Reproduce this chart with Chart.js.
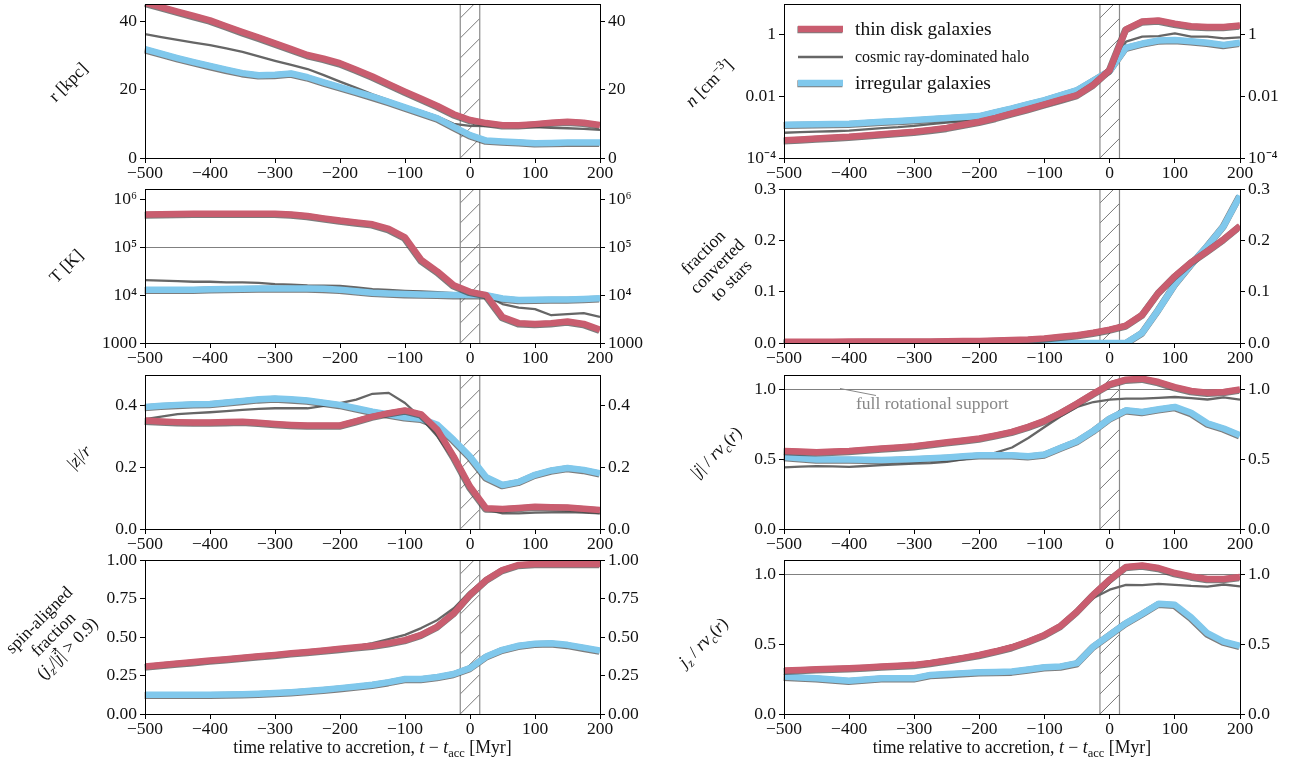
<!DOCTYPE html>
<html>
<head>
<meta charset="utf-8">
<script src="https://cdn.jsdelivr.net/npm/chart.js@4.4.0/dist/chart.umd.min.js"></script>
<style>
  body { margin: 0; background: #fff; width: 1296px; height: 762px; overflow: hidden; position: relative; }
  .panel { position: absolute; }
</style>
</head>
<body>
<script>
// time axis, Myr relative to accretion
const time = [-500, -475, -450, -425, -400, -375, -350, -325, -300, -275, -250, -225, -200, -175, -150,
  -125, -100, -75, -50, -25, 0, 25, 50, 75, 100, 125, 150, 175, 200];
const xTicks = [-500, -400, -300, -200, -100, 0, 100, 200];
const xTickLabels = ["−500", "−400", "−300", "−200", "−100", "0", "100", "200"];
const hatchBand = [-15, 15];

// r [kpc]
const rThin = [45.4, 44.1, 42.8, 41.5, 40.2, 38.5, 36.8, 35.2, 33.5, 31.8, 30.1, 29.0, 27.7, 25.8, 23.8,
  21.6, 19.4, 17.3, 15.2, 12.8, 11.1, 10.2, 9.6, 9.6, 9.9, 10.3, 10.6, 10.3, 9.6];
const rCosmic = [36.2, 35.3, 34.5, 33.7, 33.0, 32.0, 31.0, 29.7, 28.4, 27.2, 26.0, 24.2, 22.3, 20.5, 18.6,
  16.9, 15.2, 13.7, 12.1, 10.0, 9.4, 9.3, 9.1, 9.0, 9.0, 8.8, 8.7, 8.5, 8.2];
const rIrr = [31.8, 30.5, 29.2, 28.0, 26.9, 25.8, 24.8, 24.2, 24.3, 24.7, 23.6, 22.1, 20.7, 19.3, 17.9,
  16.4, 14.8, 13.2, 11.6, 9.1, 6.7, 5.1, 4.8, 4.6, 4.3, 4.4, 4.5, 4.5, 4.5];
const rTicks = [0, 20, 40];
const rTickLabels = ["0", "20", "40"];

// T [K]
const TThin = [4.8e5, 4.9e5, 4.95e5, 5e5, 5e5, 5e5, 5e5, 5e5, 5e5, 4.8e5, 4.5e5, 4e5, 3.6e5, 3.3e5, 3e5,
  2.4e5, 1.6e5, 5.4e4, 3.1e4, 1.6e4, 1.17e4, 1.0e4, 3.5e3, 2.6e3, 2.5e3, 2.6e3, 2.8e3, 2.5e3, 1.9e3];
const TCosmic = [2.05e4, 2e4, 1.95e4, 1.9e4, 1.9e4, 1.85e4, 1.85e4, 1.8e4, 1.7e4, 1.65e4, 1.6e4, 1.58e4, 1.55e4, 1.45e4, 1.33e4,
  1.28e4, 1.23e4, 1.19e4, 1.15e4, 1.1e4, 1.08e4, 9.6e3, 6.5e3, 5.5e3, 5.1e3, 3.8e3, 4.0e3, 4.2e3, 3.5e3];
const TIrr = [1.3e4, 1.3e4, 1.3e4, 1.3e4, 1.32e4, 1.34e4, 1.36e4, 1.37e4, 1.37e4, 1.37e4, 1.37e4, 1.35e4, 1.3e4, 1.2e4, 1.12e4,
  1.08e4, 1.05e4, 1.03e4, 1.02e4, 1.0e4, 1.0e4, 1.0e4, 8.5e3, 7.9e3, 8e3, 8.1e3, 8.1e3, 8.3e3, 8.6e3];
const TTicks = [1000, 1e4, 1e5, 1e6];
const TTickLabels = ["1000", "10⁴", "10⁵", "10⁶"];

// |z|/r
const zThin = [0.352, 0.349, 0.347, 0.346, 0.346, 0.347, 0.348, 0.345, 0.341, 0.338, 0.336, 0.336, 0.336, 0.35, 0.365,
  0.376, 0.385, 0.372, 0.322, 0.235, 0.138, 0.067, 0.065, 0.068, 0.072, 0.071, 0.07, 0.066, 0.062];
const zCosmic = [0.357, 0.365, 0.373, 0.376, 0.379, 0.383, 0.387, 0.39, 0.392, 0.392, 0.392, 0.4, 0.409, 0.42, 0.439,
  0.442, 0.409, 0.36, 0.3, 0.224, 0.127, 0.064, 0.051, 0.051, 0.053, 0.054, 0.055, 0.053, 0.051];
const zIrr = [0.396, 0.4, 0.403, 0.405, 0.406, 0.411, 0.416, 0.421, 0.424, 0.421, 0.417, 0.41, 0.403, 0.392, 0.381,
  0.372, 0.363, 0.358, 0.338, 0.289, 0.235, 0.168, 0.143, 0.153, 0.176, 0.19, 0.198, 0.192, 0.181];
const zTicks = [0, 0.2, 0.4];
const zTickLabels = ["0.0", "0.2", "0.4"];

// spin-aligned fraction
const sThin = [0.308, 0.318, 0.328, 0.337, 0.347, 0.356, 0.365, 0.375, 0.384, 0.394, 0.403, 0.413, 0.423, 0.433, 0.443,
  0.46, 0.48, 0.514, 0.568, 0.654, 0.773, 0.87, 0.935, 0.968, 0.974, 0.974, 0.974, 0.974, 0.974];
const sCosmic = [0.298, 0.307, 0.317, 0.326, 0.335, 0.345, 0.354, 0.363, 0.373, 0.385, 0.397, 0.409, 0.421, 0.44, 0.46,
  0.486, 0.514, 0.558, 0.611, 0.687, 0.795, 0.881, 0.94, 0.974, 0.978, 0.978, 0.978, 0.978, 0.978];
const sIrr = [0.125, 0.125, 0.125, 0.125, 0.125, 0.127, 0.129, 0.132, 0.136, 0.142, 0.149, 0.158, 0.168, 0.178, 0.19,
  0.207, 0.227, 0.227, 0.24, 0.26, 0.298, 0.373, 0.417, 0.443, 0.456, 0.46, 0.449, 0.431, 0.412];
const sTicks = [0, 0.25, 0.5, 0.75, 1];
const sTickLabels = ["0.00", "0.25", "0.50", "0.75", "1.00"];

// n [cm^-3]
const nThin = [3.8e-4, 4.0e-4, 4.3e-4, 4.6e-4, 4.9e-4, 5.4e-4, 5.9e-4, 6.5e-4, 7.1e-4, 8.2e-4, 9.5e-4, 1.2e-3, 1.5e-3, 2.0e-3, 2.8e-3,
  3.9e-3, 5.5e-3, 7.8e-3, 0.011, 0.024, 0.072, 1.5, 2.7, 2.9, 2.3, 1.9, 1.8, 1.8, 2.0];
const nCosmic = [6.6e-4, 6.9e-4, 7.2e-4, 7.4e-4, 7.7e-4, 8.5e-4, 9.4e-4, 1.0e-3, 1.1e-3, 1.25e-3, 1.4e-3, 1.55e-3, 1.7e-3, 2.1e-3, 2.7e-3,
  3.6e-3, 4.7e-3, 6.8e-3, 9.8e-3, 0.022, 0.063, 0.6, 0.87, 0.91, 1.12, 0.87, 0.87, 0.77, 0.83];
const nIrr = [1.2e-3, 1.23e-3, 1.25e-3, 1.28e-3, 1.3e-3, 1.4e-3, 1.5e-3, 1.6e-3, 1.7e-3, 1.85e-3, 2.0e-3, 2.15e-3, 2.3e-3, 3.1e-3, 4.1e-3,
  5.6e-3, 7.6e-3, 0.011, 0.016, 0.033, 0.068, 0.38, 0.52, 0.65, 0.68, 0.62, 0.55, 0.47, 0.55];
const nTicks = [1e-4, 0.01, 1];
const nTickLabels = ["10⁻⁴", "0.01", "1"];

// fraction converted to stars
const fThin = [0.0025, 0.0025, 0.0025, 0.0026, 0.0027, 0.0028, 0.0029, 0.003, 0.003, 0.003, 0.0033, 0.0037, 0.004, 0.005, 0.006,
  0.007, 0.009, 0.012, 0.015, 0.02, 0.026, 0.034, 0.055, 0.098, 0.13, 0.157, 0.179, 0.202, 0.228];
const fIrr = [0, 0, 0, 0, 0, 0, 0, 0, 0, 0, 0, 0, 0, 0, 0,
  0, 0, 0, 0, 0, 0, 0, 0.02, 0.065, 0.114, 0.153, 0.189, 0.228, 0.287];
const fTicks = [0, 0.1, 0.2, 0.3];
const fTickLabels = ["0.0", "0.1", "0.2", "0.3"];

// |j| / r v_c(r)
const jThin = [0.558, 0.553, 0.549, 0.553, 0.558, 0.566, 0.575, 0.583, 0.592, 0.605, 0.619, 0.632, 0.646, 0.669, 0.694,
  0.73, 0.772, 0.83, 0.896, 0.967, 1.033, 1.067, 1.074, 1.05, 1.014, 0.986, 0.974, 0.979, 0.996];
const jCosmic = [0.44, 0.445, 0.449, 0.447, 0.444, 0.45, 0.456, 0.462, 0.468, 0.47, 0.48, 0.497, 0.515, 0.545, 0.582,
  0.65, 0.729, 0.805, 0.872, 0.907, 0.924, 0.931, 0.931, 0.937, 0.943, 0.935, 0.925, 0.94, 0.924];
const jIrr = [0.515, 0.505, 0.497, 0.497, 0.497, 0.495, 0.492, 0.496, 0.5, 0.505, 0.511, 0.519, 0.527, 0.527, 0.527,
  0.52, 0.532, 0.58, 0.627, 0.701, 0.789, 0.848, 0.836, 0.855, 0.872, 0.83, 0.755, 0.718, 0.67];
const jTicks = [0, 0.5, 1];
const jTickLabels = ["0.0", "0.5", "1.0"];

// j_z / r v_c(r)
const jzThin = [0.31, 0.315, 0.32, 0.323, 0.327, 0.333, 0.339, 0.345, 0.351, 0.365, 0.382, 0.401, 0.422, 0.448, 0.477,
  0.518, 0.565, 0.63, 0.732, 0.852, 0.959, 1.05, 1.061, 1.043, 1.007, 0.983, 0.964, 0.964, 0.978];
const jzCosmic = [0.296, 0.302, 0.308, 0.314, 0.32, 0.329, 0.339, 0.348, 0.358, 0.375, 0.393, 0.411, 0.43, 0.46, 0.49,
  0.525, 0.565, 0.64, 0.74, 0.828, 0.888, 0.923, 0.92, 0.93, 0.923, 0.915, 0.91, 0.925, 0.911];
const jzIrr = [0.267, 0.261, 0.255, 0.247, 0.238, 0.246, 0.255, 0.255, 0.255, 0.279, 0.285, 0.292, 0.298, 0.3, 0.303,
  0.318, 0.334, 0.34, 0.363, 0.482, 0.565, 0.649, 0.716, 0.787, 0.78, 0.69, 0.577, 0.517, 0.487];

const legendNames = ["thin disk galaxies", "cosmic ray-dominated halo", "irregular galaxies"];

const FONT = '"Liberation Serif", "Times New Roman", Times, serif';
const RED = "#c95d6f", BLUE = "#80c8ec", GREY = "#666666", EDGE = "rgba(70,70,70,0.7)";
Chart.defaults.font.family = FONT;
Chart.defaults.font.size = 17.5;
Chart.defaults.color = "#111";

// page geometry of the plot areas
const cols = [{ left: 0, width: 650, lw: 145, rw: 50 }, { left: 650, width: 646, lw: 134, rw: 56 }];
const plotTops = [4, 189, 375, 560];
const plotH = 154, padTop = 16;
const edgeShift = { x: -0.6, y: 0.8 };

function segFont(s, size) {
  const sz = (s.sub || s.sup) ? size * 0.7 : size;
  return (s.i ? "italic " : "") + sz + "px " + FONT;
}

function drawRich(ctx, segs, cx, cy, size) {
  let w = 0;
  segs.forEach(s => { ctx.font = segFont(s, size); w += ctx.measureText(s.t).width; });
  let xx = cx - w / 2;
  ctx.textAlign = "left";
  ctx.textBaseline = "alphabetic";
  segs.forEach(s => {
    ctx.font = segFont(s, size);
    const dy = s.sub ? size * 0.25 : s.sup ? -size * 0.38 : 0;
    const base = cy + size * 0.33 + dy;
    ctx.fillText(s.t, xx, base);
    const sw = ctx.measureText(s.t).width;
    if (s.arrow) {
      // vector arrow over the letter
      const ay = base - size * 0.78, ax0 = xx + 1.5, ax1 = xx + sw + 2.5;
      ctx.save();
      ctx.strokeStyle = ctx.fillStyle;
      ctx.lineWidth = 0.9;
      ctx.beginPath();
      ctx.moveTo(ax0, ay); ctx.lineTo(ax1, ay);
      ctx.moveTo(ax1 - 2.5, ay - 1.8); ctx.lineTo(ax1, ay); ctx.lineTo(ax1 - 2.5, ay + 1.8);
      ctx.stroke();
      ctx.restore();
    }
    xx += sw;
  });
}

function decoPlugin(p, geo) {
  return {
    id: "deco",
    beforeDatasetDraw(chart, args) {
      const ds = chart.data.datasets[args.index];
      chart.ctx.save();
      if (ds.isEdge) chart.ctx.translate(edgeShift.x, edgeShift.y);
    },
    afterDatasetDraw(chart) {
      chart.ctx.restore();
    },
    beforeDatasetsDraw(chart) {
      const { ctx, chartArea: a, scales: { x, y } } = chart;
      ctx.save();
      ctx.beginPath();
      ctx.rect(a.left, a.top, a.width, a.height);
      ctx.clip();
      if (p.hline !== undefined) {
        const yy = Math.round(y.getPixelForValue(p.hline)) + 0.5;
        ctx.strokeStyle = "#808080";
        ctx.lineWidth = 1;
        ctx.beginPath();
        ctx.moveTo(a.left, yy);
        ctx.lineTo(a.right, yy);
        ctx.stroke();
      }
      // hatched accretion window
      const x0 = x.getPixelForValue(hatchBand[0]), x1 = x.getPixelForValue(hatchBand[1]);
      ctx.save();
      ctx.beginPath();
      ctx.rect(x0, a.top, x1 - x0, a.height);
      ctx.clip();
      ctx.strokeStyle = "#555";
      ctx.lineWidth = 0.8;
      for (let yy = a.bottom + 40; yy > a.top - 40; yy -= 20) {
        ctx.beginPath();
        ctx.moveTo(x0, yy);
        ctx.lineTo(x1, yy - (x1 - x0));
        ctx.stroke();
      }
      ctx.restore();
      ctx.strokeStyle = "#8a8a8a";
      ctx.lineWidth = 1.2;
      [x0, x1].forEach(xx => {
        ctx.beginPath();
        ctx.moveTo(xx, a.top);
        ctx.lineTo(xx, a.bottom);
        ctx.stroke();
      });
      ctx.restore();
    },
    afterDraw(chart) {
      const { ctx, chartArea: a } = chart;
      ctx.save();
      // frame
      ctx.strokeStyle = "#000";
      ctx.lineWidth = 1;
      ctx.strokeRect(Math.round(a.left) + 0.5, Math.round(a.top) + 0.5, Math.round(a.width), Math.round(a.height));
      ctx.fillStyle = "#111";
      // rotated y title
      const t = p.title;
      ctx.save();
      ctx.translate(t.x - geo.left, t.y - geo.top);
      ctx.rotate(-Math.PI / 4);
      t.lines.forEach((line, i) => drawRich(ctx, line, 0, (i - (t.lines.length - 1) / 2) * 20, 17.5));
      ctx.restore();
      // x title
      if (p.xTitle) {
        drawRich(ctx, [{ t: "time relative to accretion, " }, { t: "t", i: 1 }, { t: " − " }, { t: "t", i: 1 },
          { t: "acc", sub: 1 }, { t: " [Myr]" }], (a.left + a.right) / 2, 747 - geo.top, 17.8);
      }
      // legend
      if (p.legend) {
        const lx0 = 798 - geo.left, lx1 = 843 - geo.left, tx = 855 - geo.left;
        const rows = [
          { y: 29, color: RED, w: 6.5, edge: true, size: 19.5 },
          { y: 57, color: GREY, w: 2.5, edge: false, size: 16 },
          { y: 83, color: BLUE, w: 6.5, edge: true, size: 19.5 }
        ];
        rows.forEach((r, i) => {
          const yy = r.y - geo.top;
          if (r.edge) {
            ctx.strokeStyle = EDGE;
            ctx.lineWidth = r.w + 0.6;
            ctx.beginPath();
            ctx.moveTo(lx0 + edgeShift.x, yy + edgeShift.y);
            ctx.lineTo(lx1 + edgeShift.x, yy + edgeShift.y);
            ctx.stroke();
          }
          ctx.strokeStyle = r.color;
          ctx.lineWidth = r.w;
          ctx.beginPath(); ctx.moveTo(lx0, yy); ctx.lineTo(lx1, yy); ctx.stroke();
          ctx.fillStyle = "#111";
          ctx.font = r.size + "px " + FONT;
          ctx.textAlign = "left";
          ctx.textBaseline = "middle";
          ctx.fillText(legendNames[i], tx, yy + 1);
        });
      }
      // annotation
      if (p.note) {
        ctx.strokeStyle = "#888";
        ctx.lineWidth = 1;
        ctx.beginPath();
        ctx.moveTo(840 - geo.left, 388.5 - geo.top);
        ctx.lineTo(876 - geo.left, 395.5 - geo.top);
        ctx.stroke();
        ctx.fillStyle = "#888";
        ctx.font = "17.5px " + FONT;
        ctx.textAlign = "left";
        ctx.textBaseline = "middle";
        ctx.fillText("full rotational support", 856 - geo.left, 404 - geo.top);
      }
      ctx.restore();
    }
  };
}

function pts(arr) {
  return time.map((t, i) => ({ x: t, y: arr[i] }));
}

function yAxis(p, pos, w) {
  return {
    type: p.log ? "logarithmic" : "linear",
    position: pos,
    min: p.min,
    max: p.max,
    afterFit: s => { s.width = w; },
    afterBuildTicks: s => { s.ticks = p.ticks.map(v => ({ value: v })); },
    ticks: {
      autoSkip: false,
      padding: 3,
      color: "#111",
      callback: (v, i) => p.tickLabels[i]
    },
    grid: { drawOnChartArea: false, drawTicks: true, tickLength: 5, color: "#000", tickWidth: 1 },
    border: { display: true, color: "#000", width: 1 }
  };
}

function makePanel(p) {
  const c = cols[p.col];
  const xH = p.row === 3 ? 762 - (plotTops[3] + plotH) : 26;
  const geo = { left: c.left, top: plotTops[p.row] - padTop, width: c.width, height: padTop + plotH + xH };
  const div = document.createElement("div");
  div.className = "panel";
  div.style.left = geo.left + "px";
  div.style.top = geo.top + "px";
  div.style.width = geo.width + "px";
  div.style.height = geo.height + "px";
  const canvas = document.createElement("canvas");
  canvas.width = geo.width;
  canvas.height = geo.height;
  canvas.style.width = geo.width + "px";
  canvas.style.height = geo.height + "px";
  div.appendChild(canvas);
  document.body.appendChild(div);

  const line = (arr, color, width, order, isEdge) => ({
    data: pts(arr), borderColor: color, borderWidth: width, pointRadius: 0, isEdge: !!isEdge,
    tension: 0, fill: false, clip: 0, borderJoinStyle: "round", order: order
  });
  const ds = [];
  ds.push(line(p.series[0], RED, 6.5, 0));
  ds.push(line(p.series[0], EDGE, 7, 1, true));
  if (p.series[2]) {
    ds.push(line(p.series[2], BLUE, 6.5, 2));
    ds.push(line(p.series[2], EDGE, 7, 3, true));
  }
  if (p.series[1]) ds.push(line(p.series[1], GREY, 2.3, 4));

  return new Chart(canvas.getContext("2d"), {
    type: "line",
    data: { datasets: ds },
    options: {
      responsive: false,
      animation: false,
      devicePixelRatio: 1,
      events: [],
      layout: { padding: { top: padTop, left: 0, right: 0, bottom: 0 } },
      plugins: { legend: { display: false }, tooltip: { enabled: false } },
      scales: {
        x: {
          type: "linear",
          min: -500,
          max: 200,
          afterFit: s => { s.height = xH; },
          afterBuildTicks: s => { s.ticks = xTicks.map(v => ({ value: v })); },
          ticks: { autoSkip: false, maxRotation: 0, padding: 0, color: "#111", callback: (v, i) => xTickLabels[i] },
          grid: { drawOnChartArea: false, drawTicks: true, tickLength: 5, color: "#000" },
          border: { display: true, color: "#000", width: 1 }
        },
        y: yAxis(p, "left", c.lw),
        y2: yAxis(p, "right", c.rw)
      }
    },
    plugins: [decoPlugin(p, geo)]
  });
}

const panels = [
  { col: 0, row: 0, min: 0, max: 45, ticks: rTicks, tickLabels: rTickLabels, series: [rThin, rCosmic, rIrr],
    title: { x: 68, y: 82, lines: [[{ t: "r [kpc]" }]] } },
  { col: 0, row: 1, log: true, min: 1000, max: 1.64e6, ticks: TTicks, tickLabels: TTickLabels, hline: 1e5,
    series: [TThin, TCosmic, TIrr], title: { x: 66, y: 266, lines: [[{ t: "T [K]" }]] } },
  { col: 0, row: 2, min: 0, max: 0.5, ticks: zTicks, tickLabels: zTickLabels, series: [zThin, zCosmic, zIrr],
    title: { x: 79, y: 457, lines: [[{ t: "|" }, { t: "z", i: 1 }, { t: "|/" }, { t: "r", i: 1 }]] } },
  { col: 0, row: 3, min: 0, max: 1, ticks: sTicks, tickLabels: sTickLabels, series: [sThin, sCosmic, sIrr], xTitle: true,
    title: { x: 53, y: 634, lines: [[{ t: "spin-aligned" }], [{ t: "fraction" }],
      [{ t: "(" }, { t: "j", i: 1 }, { t: "z", i: 1, sub: 1 }, { t: "/|" }, { t: "j", i: 1, arrow: 1 }, { t: "| > 0.9)" }]] } },
  { col: 1, row: 0, log: true, min: 1e-4, max: 10, ticks: nTicks, tickLabels: nTickLabels, series: [nThin, nCosmic, nIrr],
    legend: true, title: { x: 709, y: 83, lines: [[{ t: "n", i: 1 }, { t: " [cm" }, { t: "−3", sup: 1 }, { t: "]" }]] } },
  { col: 1, row: 1, min: 0, max: 0.3, ticks: fTicks, tickLabels: fTickLabels, series: [fThin, null, fIrr],
    title: { x: 717, y: 266, lines: [[{ t: "fraction" }], [{ t: "converted" }], [{ t: "to stars" }]] } },
  { col: 1, row: 2, min: 0, max: 1.1, ticks: jTicks, tickLabels: jTickLabels, hline: 1, note: true,
    series: [jThin, jCosmic, jIrr],
    title: { x: 716, y: 452, lines: [[{ t: "|" }, { t: "j", i: 1 }, { t: "| / " }, { t: "rv", i: 1 }, { t: "c", i: 1, sub: 1 },
      { t: "(" }, { t: "r", i: 1 }, { t: ")" }]] } },
  { col: 1, row: 3, min: 0, max: 1.1, ticks: jTicks, tickLabels: jTickLabels, hline: 1, xTitle: true,
    series: [jzThin, jzCosmic, jzIrr],
    title: { x: 703, y: 642, lines: [[{ t: "j", i: 1 }, { t: "z", i: 1, sub: 1 }, { t: " / " }, { t: "rv", i: 1 },
      { t: "c", i: 1, sub: 1 }, { t: "(" }, { t: "r", i: 1 }, { t: ")" }]] } }
];

panels.forEach(makePanel);
</script>
</body>
</html>
